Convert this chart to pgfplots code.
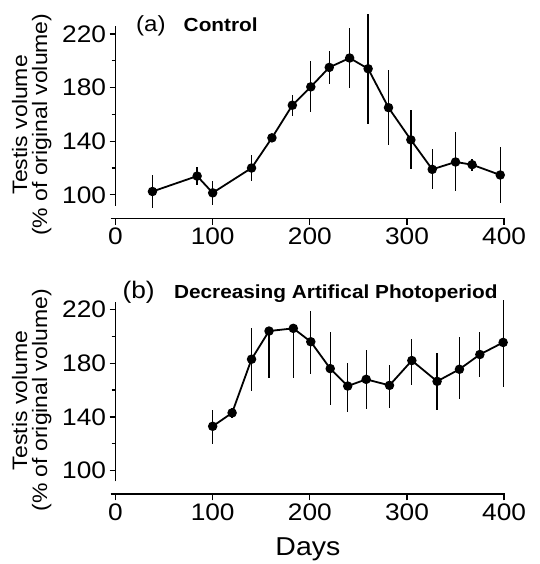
\documentclass[border=0pt]{standalone}
\usepackage{fontspec}
\setmainfont{Liberation Sans}[FakeStretch=1.1]
\usepackage{pgfplots}
\usepackage{pgfplotstable}
\pgfplotsset{compat=1.18}

% (a) control group: day, mean volume, error
\pgfplotstableread{
day vol err
38  102.5 12
84  114   7
100 101.5 9
140 120   10
161 142.5 1
182 166.8 8
201 180.5 19
220 195   12
241 202   22
260 194   41
281 165   28
304 141   22
326 119   15
350 124.5 22
367 122.5 4.5
396 114.8 21
}\controldata

% (b) decreasing photoperiod: error bars not symmetric
\pgfplotstableread{
day vol ep em
100 133   12 13
120 143   4  4
140 183   23 24
158 204   0  35
183 206   0  37
201 196   23 24
221 176   27 27
239 163   17 19
258 168   22 22
282 163.5 15 17
305 182   16 18
331 166.5 21 21
354 175.5 24 22
375 186.5 17 17
399 195.5 32 33
}\photodata

\pgfplotsset{
  testis/.style={
    x=0.9725bp, y=1.343bp,
    xmin=-5, xmax=401, ymin=92, ymax=226,
    clip=false,
    axis x line*=bottom, axis y line*=left,
    axis line style={draw=none},
    axis x line shift=13bp,
    axis y line shift=-4.9bp,
    xtick={0,100,...,400},
    ytick={100,140,180,220},
    minor ytick={120,160,200},
    tick align=outside,
    major tick length=6bp, minor tick length=4bp,
    tick style={line width=1.3bp, black},
    tick label style={font=\fontsize{24}{24}\selectfont},
    /pgf/number format/assume math mode=true,
    ylabel={Testis volume\\(\% of original volume)},
    ylabel shift=4bp,
    ylabel style={align=center, font=\fontsize{21}{20}\selectfont,
      at={(ticklabel cs:0.45)}},
  },
  series/.style={
    black, line width=1.8bp, mark=*, mark size=3.8bp,
    error bars/.cd, y dir=both, y explicit, error mark=none,
    error bar style={line width=1.3bp},
  },
}
% detached axis lines, as in the original figure
\newcommand{\axislines}{%
  \draw[line width=1.7bp] (axis cs:0,92) -- (axis cs:0,226);
  \draw[line width=1.7bp] ([yshift=-13bp]axis cs:-5,92) -- ([yshift=-13bp]axis cs:401,92);}

\begin{document}
\begin{tikzpicture}
\begin{axis}[testis, name=top]
  \axislines
  \addplot[series] table[x=day, y=vol, y error=err] {\controldata};
  \node[anchor=base west, inner sep=0, font=\fontsize{22}{22}\selectfont]
    at (axis cs:21,221.6) {(a)};
  \node[anchor=base west, inner sep=0, font=\fontsize{19}{19}\selectfont\bfseries]
    at (axis cs:70,221.6) {Control};
\end{axis}

\begin{axis}[testis, at={(0,-276bp)},
    xlabel={Days}, xlabel style={font=\fontsize{26}{26}\selectfont, yshift=-10bp}]
  \axislines
  \addplot[series] table[x=day, y=vol, y error plus=ep, y error minus=em] {\photodata};
  \node[anchor=base west, inner sep=0, font=\fontsize{24}{24}\selectfont]
    at (axis cs:7,228) {(b)};
  \node[anchor=base west, inner sep=0, font=\fontsize{19}{19}\selectfont\bfseries]
    at (axis cs:60,228) {Decreasing Artifical Photoperiod};
\end{axis}
% page margins as in the reference
\path (-110.8bp,-358.2bp) rectangle (429.2bp,205.8bp);
\end{tikzpicture}
\end{document}
